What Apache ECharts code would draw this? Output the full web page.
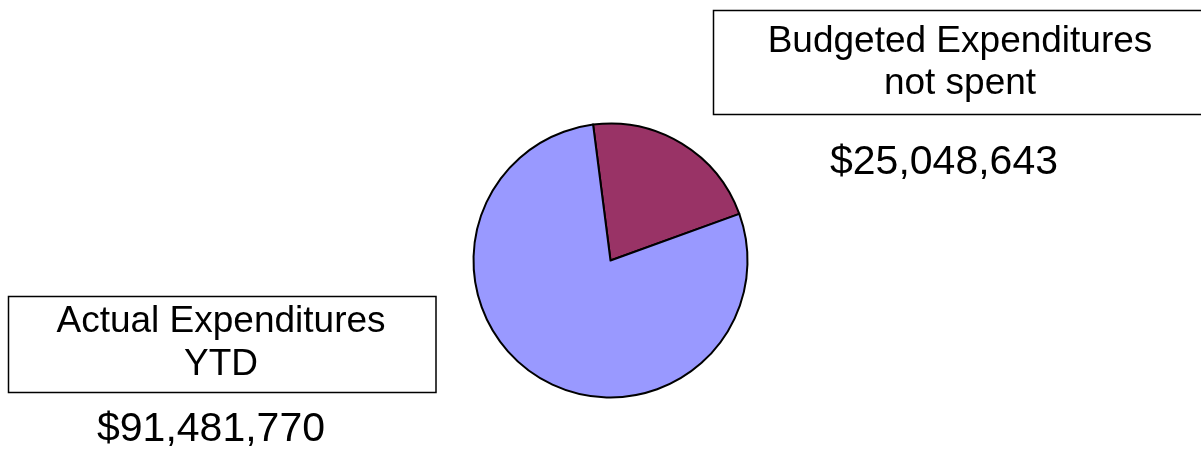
<!DOCTYPE html>
<html>
<head>
<meta charset="utf-8">
<script src="https://cdn.jsdelivr.net/npm/echarts@6/dist/echarts.min.js"></script>
<style>
  html, body { margin: 0; padding: 0; background: #fff; }
  #chart { width: 1201px; height: 455px; }
</style>
</head>
<body>
<div id="chart"></div>
<script>
// slice data, in drawing order (clockwise from the top)
const categories = ['Budgeted Expenditures\nnot spent', 'Actual Expenditures\nYTD']
const values = [25048643, 91481770]
const colors = ['#993366', '#9999FF']

const money = v => '$' + v.toLocaleString('en-US')
const font = '"Liberation Sans", Arial, sans-serif'

const chart = echarts.init(document.getElementById('chart'))

// label boxes: [rect x, y, w, h, text x, value x, value y]
const boxes = [
  [713.5, 10.5, 520, 104, 960, 944, 163],
  [8.5, 296.5, 427.5, 96, 221, 211, 429.5]
]

const graphic = []
boxes.forEach((b, i) => {
  graphic.push({
    type: 'rect',
    shape: { x: b[0], y: b[1], width: b[2], height: b[3] },
    style: { fill: '#fff', stroke: '#000', lineWidth: 1.5 },
    z: 10
  })
  graphic.push({
    type: 'text',
    x: b[4],
    y: b[1] + b[3] / 2 - (i === 0 ? 0 : 1),
    style: {
      text: categories[i],
      font: '37px ' + font,
      fill: '#000',
      align: 'center',
      verticalAlign: 'middle',
      lineHeight: i === 0 ? 42 : 43
    },
    z: 11
  })
  graphic.push({
    type: 'text',
    x: b[5],
    y: b[6],
    style: {
      text: money(values[i]),
      font: '41px ' + font,
      fill: '#000',
      align: 'center',
      verticalAlign: 'middle'
    },
    z: 11
  })
})

chart.setOption({
  animation: false,
  backgroundColor: '#fff',
  graphic: graphic,
  series: [{
    type: 'pie',
    center: [610.5, 260.5],
    radius: 137,
    startAngle: 97.3,
    clockwise: true,
    label: { show: false },
    labelLine: { show: false },
    emphasis: { disabled: true },
    itemStyle: { borderColor: '#000', borderWidth: 2 },
    data: categories.map((c, i) => ({
      name: c,
      value: values[i],
      itemStyle: { color: colors[i] }
    }))
  }]
})
</script>
</body>
</html>
